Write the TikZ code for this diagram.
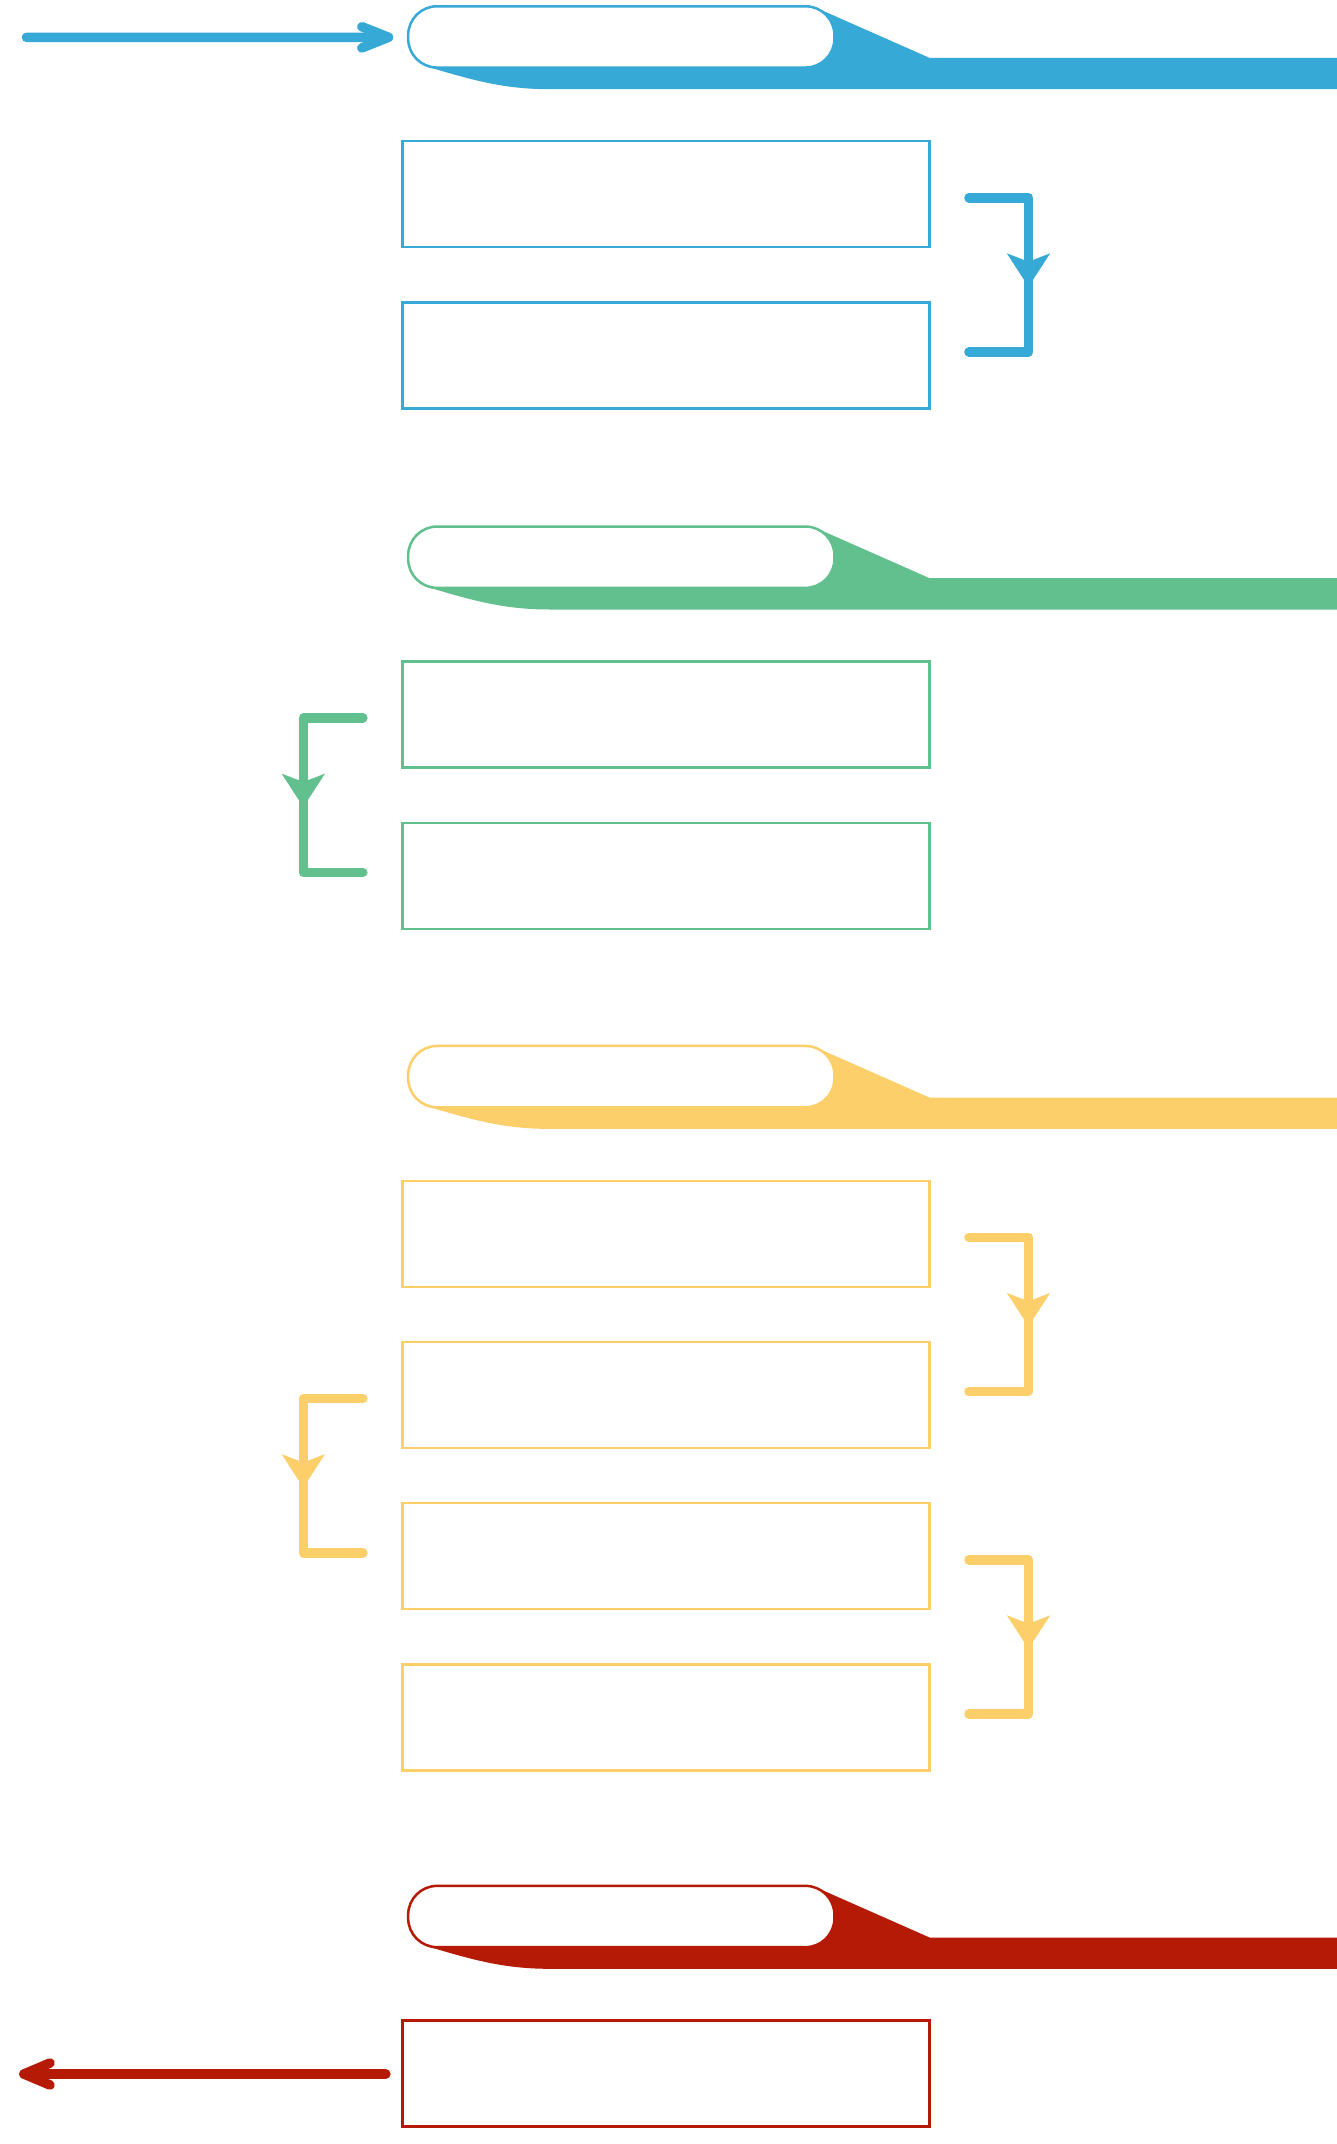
\documentclass[tikz,border=0pt]{standalone}
\usetikzlibrary{calc}
\definecolor{cblue}{HTML}{36A9D7}
\definecolor{cgreen}{HTML}{62C08E}
\definecolor{cyellow}{HTML}{FDCF6A}
\definecolor{cred}{HTML}{B41A05}
\tikzset{
  box/.style={draw, line width=2.4pt, minimum width=526.8pt, minimum height=106pt, inner sep=0pt, fill=white},
  pill/.style={draw, line width=2.5pt, fill=white, rounded corners=29pt, minimum width=426.3pt, minimum height=61.3pt, inner sep=0pt},
  conn/.style={line width=9.6pt, line cap=round, line join=round},
}
% #1 name, #2 colour, #3 centre y of the pill
\newcommand\mytab[3]{%
  \fill[#2] (428,{#3+30}) .. controls (475,{#3+44}) and (505,{#3+52.3}) .. (550,{#3+52.3})
     -- (1337,{#3+52.3}) -- (1337,{#3+21}) -- (929.6,{#3+21}) -- (813,{#3-30.5})
     -- (700,{#3-30.5}) -- (700,{#3+30}) -- cycle;
  \node[pill, draw=#2] (#1) at (621.3,#3) {};
}
% right-hand connector from #1 down to #2
\newcommand\rconn[3]{%
  \draw[conn,#3] ($(#1.east)+(38.5,3.5)$) -| ($(#2.east)+(98,-3.5)$) -- ($(#2.east)+(38.5,-3.5)$);
  \fill[#3] ($(#1.east)+(98,92.5)$) -- ++(-21.7,-33.4) -- ++(21.7,8.4) -- ++(21.7,-8.4) -- cycle;
}
% left-hand connector from #1 down to #2
\newcommand\lconn[3]{%
  \draw[conn,#3] ($(#1.west)+(-38.5,3.5)$) -| ($(#2.west)+(-98,-3.5)$) -- ($(#2.west)+(-38.5,-3.5)$);
  \fill[#3] ($(#1.west)+(-98,92.5)$) -- ++(-21.7,-33.4) -- ++(21.7,8.4) -- ++(21.7,-8.4) -- cycle;
}
\begin{document}
\begin{tikzpicture}[x=1pt,y=-1pt]
\useasboundingbox (0,0) rectangle (1337,2144);
\fill[white] (0,0) rectangle (1337,2144);

% blue section
\mytab{bp}{cblue}{36.9}
\node[box, draw=cblue] (b1) at (665.9,194.2) {};
\node[box, draw=cblue] (b2) at (665.9,355.5) {};
\rconn{b1}{b2}{cblue}

% green section
\mytab{gp}{cgreen}{557.2}
\node[box, draw=cgreen] (g1) at (665.9,714.5) {};
\node[box, draw=cgreen] (g2) at (665.9,875.8) {};
\lconn{g1}{g2}{cgreen}

% yellow section
\mytab{yp}{cyellow}{1076.6}
\node[box, draw=cyellow] (y1) at (665.9,1233.8) {};
\node[box, draw=cyellow] (y2) at (665.9,1395.0) {};
\node[box, draw=cyellow] (y3) at (665.9,1556.2) {};
\node[box, draw=cyellow] (y4) at (665.9,1717.4) {};
\rconn{y1}{y2}{cyellow}
\lconn{y2}{y3}{cyellow}
\rconn{y3}{y4}{cyellow}

% red section
\mytab{rp}{cred}{1916.5}
\node[box, draw=cred] (r1) at (665.9,2073.6) {};

% input arrow
\coordinate (in) at (26.5,37.3);
\draw[conn,cblue] (in) -- ($(bp.west)+(-18.5,0.4)$);
\draw[conn,cblue] ($(bp.west)+(-45,-10.2)$) -- ($(bp.west)+(-18.5,0.4)$) -- ($(bp.west)+(-45,11)$);

% output arrow
\coordinate (out) at (24,2074);
\draw[conn,cred] ($(r1.west)+(-15.5,0.4)$) -- (out);
\draw[conn,cred] ($(out)+(26,-11)$) -- (out) -- ($(out)+(26,11)$);
\end{tikzpicture}
\end{document}
